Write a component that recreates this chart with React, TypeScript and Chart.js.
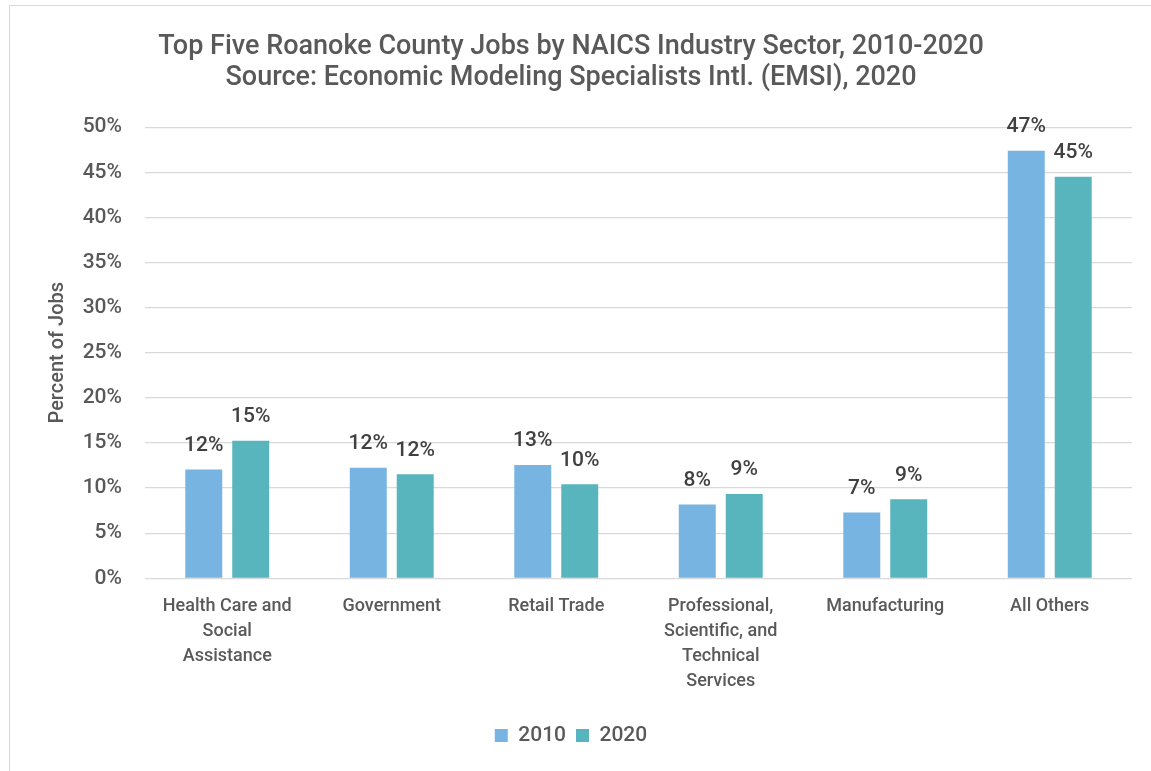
import React, { useEffect, useRef } from "react";
import { Chart, registerables } from "chart.js";

Chart.register(...registerables);

const categories: (string | string[])[] = [
  ["Health Care and", "Social", "Assistance"],
  "Government",
  "Retail Trade",
  ["Professional,", "Scientific, and", "Technical", "Services"],
  "Manufacturing",
  "All Others",
];
const values2010 = [12.07, 12.26, 12.55, 8.17, 7.29, 47.39];
const values2020 = [15.25, 11.52, 10.42, 9.35, 8.76, 44.52];
const seriesNames = ["2010", "2020"];
const titleLines = [
  "Top Five Roanoke County Jobs by NAICS Industry Sector, 2010-2020",
  "Source: Economic Modeling Specialists Intl. (EMSI), 2020",
];
const yAxisTitle = "Percent of Jobs";

const FONT = "Roboto, 'Noto Sans', sans-serif";
const TEXT = "#595959";

const dataLabelPlugin = {
  id: "dataLabels",
  afterDatasetsDraw(chart: any) {
    const ctx = chart.ctx;
    ctx.save();
    ctx.font = `500 21px ${FONT}`;
    ctx.fillStyle = "#404040";
    ctx.textAlign = "center";
    ctx.textBaseline = "middle";
    chart.data.datasets.forEach((ds: any, i: number) => {
      const meta = chart.getDatasetMeta(i);
      meta.data.forEach((bar: any, j: number) => {
        const v = ds.data[j];
        ctx.fillText(Math.round(v) + "%", bar.x, bar.y - 24);
      });
    });
    ctx.restore();
  },
};

export default function App() {
  const ref = useRef<HTMLCanvasElement>(null);
  useEffect(() => {
    if (!ref.current) return;
    const chart = new Chart(ref.current, {
      type: "bar",
      data: {
        labels: categories,
        datasets: [
          {
            label: seriesNames[0],
            data: values2010,
            backgroundColor: "#77B4E2",
            barPercentage: 0.787,
            categoryPercentage: 0.571,
          },
          {
            label: seriesNames[1],
            data: values2020,
            backgroundColor: "#58B5BE",
            barPercentage: 0.787,
            categoryPercentage: 0.571,
          },
        ],
      },
      options: {
        animation: false,
        responsive: false,
        maintainAspectRatio: false,
        layout: { padding: { top: 0, left: 0, right: 19, bottom: 15 } },
        plugins: {
          title: {
            display: true,
            text: titleLines,
            color: TEXT,
            font: { family: FONT, size: 27, weight: "500", lineHeight: 1.148 },
            padding: { top: 26, bottom: 33.2 },
          },
          legend: {
            position: "bottom",
            labels: {
              boxWidth: 13,
              boxHeight: 13,
              color: TEXT,
              font: { family: FONT, size: 21, weight: "500" },
              padding: 10,
            },
          },
          tooltip: { enabled: false },
        },
        scales: {
          x: {
            grid: { display: false, drawTicks: false },
            border: { display: false },
            ticks: {
              color: TEXT,
              font: { family: FONT, size: 18, weight: "500", lineHeight: 1.39 },
              padding: 16,
              maxRotation: 0,
              autoSkip: false,
            },
            afterFit: (scale: any) => {
              scale.height = 136.7;
            },
          },
          y: {
            min: 0,
            max: 50,
            grid: { color: "#D9D9D9", lineWidth: 1.3, drawTicks: false },
            border: { display: false },
            ticks: {
              stepSize: 5,
              color: TEXT,
              font: { family: FONT, size: 21, weight: "500" },
              padding: 23,
              callback: (v: any) => v + "%",
            },
            title: {
              display: true,
              text: yAxisTitle,
              color: TEXT,
              font: { family: FONT, size: 20, weight: "500", lineHeight: 1.2 },
              padding: { top: 36, bottom: 0 },
            },
            afterFit: (scale: any) => {
              scale.width = 135;
            },
          },
        },
      },
      plugins: [dataLabelPlugin],
    });
    return () => chart.destroy();
  }, []);

  return (
    <div
      style={{
        position: "absolute",
        left: 9,
        top: 5,
        width: 1142,
        height: 766,
        borderTop: "1px solid #D9D9D9",
        borderLeft: "1px solid #D9D9D9",
        boxSizing: "border-box",
        background: "#fff",
        overflow: "hidden",
      }}
    >
      <canvas ref={ref} width={1141} height={765} style={{ display: "block" }} />
    </div>
  );
}
